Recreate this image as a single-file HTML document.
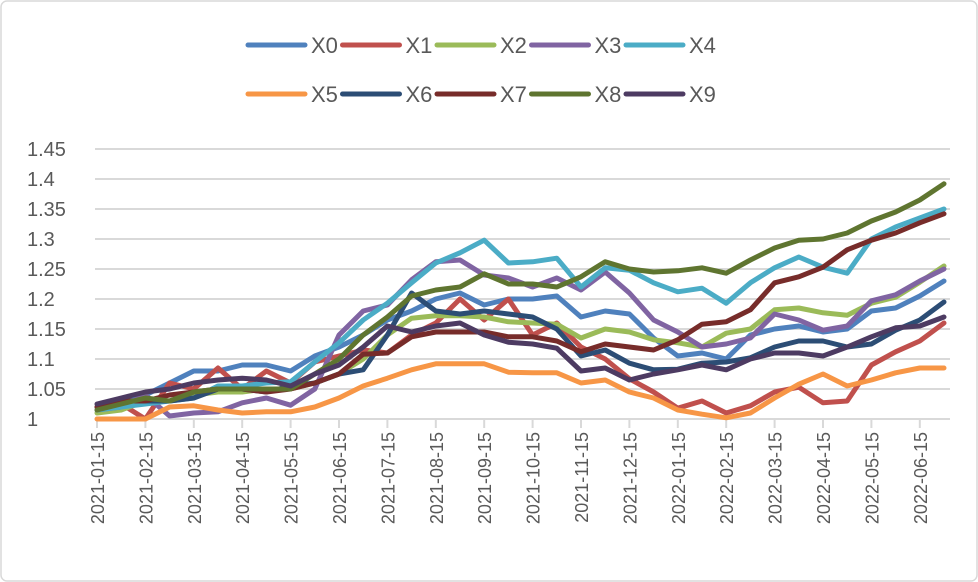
<!DOCTYPE html>
<html><head><meta charset="utf-8"><style>
body{margin:0;background:#fff;}
svg{display:block;font-family:"Liberation Sans",sans-serif;}
</style></head><body>
<svg id="chart" width="978" height="582" viewBox="0 0 978 582" xmlns="http://www.w3.org/2000/svg">
<rect x="1" y="1" width="976" height="580" rx="6" fill="#fff" stroke="#d9d9d9" stroke-width="1.5"/>
<g id="grid"></g><g id="yticks"></g><g id="xticks"></g><g id="series"></g><g id="legend"></g>
</svg>
<script>
const seriesNames=["X0","X1","X2","X3","X4","X5","X6","X7","X8","X9"];
const colors=["#4F81BD","#C0504D","#9BBB59","#8064A2","#4BACC6","#F79646","#2C4D75","#772C2A","#5F7530","#4D3B62"];
const xLabels=["2021-01-15","2021-02-15","2021-03-15","2021-04-15","2021-05-15","2021-06-15","2021-07-15","2021-08-15","2021-09-15","2021-10-15","2021-11-15","2021-12-15","2022-01-15","2022-02-15","2022-03-15","2022-04-15","2022-05-15","2022-06-15"];
const yTicks=[1,1.05,1.1,1.15,1.2,1.25,1.3,1.35,1.4,1.45];
const yTickLabels=["1","1.05","1.1","1.15","1.2","1.25","1.3","1.35","1.4","1.45"];
const s0=[1.015,1.03,1.04,1.06,1.08,1.08,1.09,1.09,1.08,1.105,1.12,1.14,1.165,1.18,1.2,1.21,1.19,1.2,1.2,1.205,1.17,1.18,1.175,1.135,1.105,1.11,1.1,1.14,1.15,1.155,1.145,1.15,1.18,1.185,1.205,1.23];
const s1=[1.02,1.025,1.0,1.06,1.05,1.085,1.05,1.08,1.06,1.095,1.105,1.115,1.11,1.14,1.16,1.2,1.165,1.2,1.14,1.16,1.12,1.1,1.067,1.045,1.018,1.03,1.01,1.022,1.045,1.053,1.027,1.03,1.09,1.112,1.13,1.16];
const s2=[1.01,1.015,1.03,1.03,1.04,1.045,1.045,1.05,1.05,1.06,1.075,1.1,1.14,1.168,1.172,1.172,1.17,1.162,1.16,1.158,1.135,1.15,1.145,1.132,1.127,1.12,1.143,1.15,1.182,1.185,1.177,1.173,1.193,1.203,1.228,1.255];
const s3=[1.015,1.02,1.04,1.005,1.01,1.012,1.027,1.035,1.023,1.05,1.14,1.18,1.19,1.232,1.262,1.265,1.24,1.235,1.22,1.235,1.215,1.245,1.21,1.165,1.145,1.12,1.125,1.135,1.175,1.165,1.148,1.155,1.197,1.207,1.23,1.25];
const s4=[1.015,1.02,1.025,1.03,1.035,1.055,1.055,1.06,1.062,1.095,1.127,1.165,1.193,1.227,1.26,1.277,1.298,1.26,1.262,1.268,1.22,1.252,1.248,1.227,1.212,1.218,1.193,1.227,1.252,1.27,1.253,1.243,1.3,1.32,1.335,1.35];
const s5=[1.0,1.0,1.0,1.02,1.022,1.015,1.01,1.012,1.012,1.02,1.035,1.055,1.068,1.082,1.092,1.092,1.092,1.078,1.077,1.077,1.06,1.065,1.045,1.035,1.015,1.008,1.002,1.01,1.035,1.058,1.075,1.055,1.065,1.077,1.085,1.085];
const s6=[1.02,1.03,1.03,1.03,1.035,1.05,1.05,1.045,1.055,1.06,1.075,1.082,1.14,1.21,1.18,1.175,1.18,1.175,1.17,1.15,1.105,1.115,1.093,1.082,1.083,1.093,1.095,1.102,1.12,1.13,1.13,1.12,1.125,1.148,1.165,1.195];
const s7=[1.02,1.03,1.03,1.04,1.045,1.05,1.05,1.045,1.05,1.06,1.075,1.108,1.11,1.137,1.145,1.145,1.145,1.137,1.137,1.13,1.112,1.125,1.12,1.115,1.132,1.158,1.162,1.182,1.227,1.237,1.253,1.282,1.298,1.31,1.327,1.342];
const s8=[1.015,1.025,1.035,1.03,1.045,1.05,1.05,1.05,1.05,1.075,1.1,1.14,1.17,1.205,1.215,1.22,1.242,1.225,1.225,1.22,1.237,1.262,1.25,1.245,1.247,1.252,1.243,1.265,1.285,1.298,1.3,1.31,1.33,1.345,1.365,1.392];
const s9=[1.025,1.035,1.045,1.05,1.06,1.065,1.068,1.065,1.055,1.075,1.09,1.12,1.155,1.145,1.155,1.16,1.14,1.128,1.125,1.118,1.08,1.085,1.065,1.075,1.082,1.09,1.082,1.1,1.11,1.11,1.105,1.12,1.137,1.152,1.155,1.17];
const allSeries=[s0,s1,s2,s3,s4,s5,s6,s7,s8,s9];

const NS="http://www.w3.org/2000/svg";
const X0=97, STEP=24.2, Y0=419, YPX=600;
function xScale(i){return X0+i*STEP;}
function yScale(v){return Y0-(v-1)*YPX;}
function mk(tag,attrs,parent){const e=document.createElementNS(NS,tag);for(const k in attrs)e.setAttribute(k,attrs[k]);parent.appendChild(e);return e;}

const grid=document.getElementById('grid'), yt=document.getElementById('yticks');
yTicks.forEach((v,i)=>{
  const l=mk('line',{x1:95,x2:950,y1:yScale(v),y2:yScale(v),stroke:'#d9d9d9','stroke-width':2},grid);
  
  
  const t=mk('text',{x:27,y:yScale(v)+7,'font-size':20,fill:'#595959'},yt);
  t.textContent=yTickLabels[i];
  
  
});
const xt=document.getElementById('xticks');
xLabels.forEach((lab,i)=>{
  const x=xScale(i*2);
  const tk=mk('line',{x1:x,x2:x,y1:419,y2:428,stroke:'#d9d9d9','stroke-width':2},xt);
  
  
  const t=mk('text',{x:0,y:0,'font-size':18,fill:'#595959','text-anchor':'end',transform:`translate(${x+7},432) rotate(-90)`},xt);
  t.textContent=lab;
  
  
});
const sg=document.getElementById('series');
allSeries.forEach((arr,si)=>{
  const pts=arr.map((v,i)=>xScale(i).toFixed(1)+','+yScale(Math.max(v,0.995)).toFixed(1)).join(' ');
  const p=mk('polyline',{points:pts,fill:'none',stroke:colors[si],'stroke-width':5,'stroke-linejoin':'round','stroke-linecap':'round'},sg);
  
  
});
const lg=document.getElementById('legend');
seriesNames.forEach((n,i)=>{
  const col=i%5,row=Math.floor(i/5);
  const x=248+col*94.5, y=row?94:45;
  const g=mk('g',{},lg);
  
  
  mk('line',{x1:x,x2:x+57,y1:y,y2:y,stroke:colors[i],'stroke-width':5,'stroke-linecap':'round'},g);
  const t=mk('text',{x:x+63,y:y+8,'font-size':22,fill:'#595959'},g);
  t.textContent=n;
});
</script>
</body></html>
